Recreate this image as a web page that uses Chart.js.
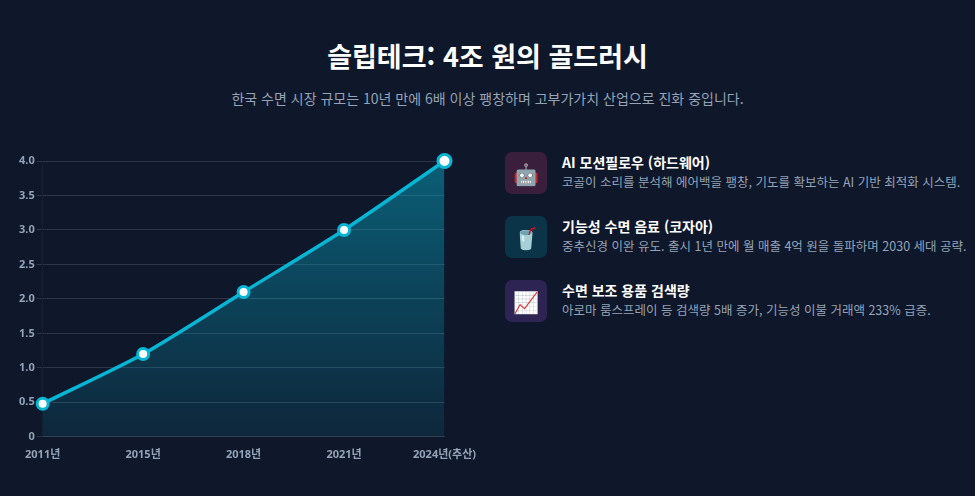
<!DOCTYPE html>
<html lang="ko">
<head>
<meta charset="utf-8">
<title>슬립테크: 4조 원의 골드러시</title>
<script src="https://cdn.jsdelivr.net/npm/chart.js@4.4.1/dist/chart.umd.min.js"></script>
<style>
    html, body {
        margin: 0;
        padding: 0;
        background: #0f172a;
        width: 975px;
        height: 496px;
        overflow: hidden;
        font-family: "Noto Sans CJK KR", "Noto Sans", sans-serif;
    }
    .title {
        position: absolute;
        left: 0;
        width: 975px;
        top: 36px;
        text-align: center;
        color: #ffffff;
        font-size: 27px;
        font-weight: 700;
        line-height: 40px;
    }
    .subtitle {
        position: absolute;
        left: 0;
        width: 975px;
        top: 88px;
        text-align: center;
        color: #94a3b8;
        font-size: 14px;
        line-height: 20px;
    }
    .chart-wrap {
        position: absolute;
        left: 17px;
        top: 151px;
        width: 462px;
        height: 313px;
    }
    .items {
        position: absolute;
        left: 505px;
        top: 152px;
        width: 470px;
    }
    .item {
        display: flex;
        align-items: flex-start;
        height: 64px;
    }
    .icon {
        width: 42px;
        height: 42px;
        border-radius: 7px;
        display: flex;
        align-items: center;
        justify-content: center;
        font-size: 21px;
        flex: none;
    }
    .text {
        margin-left: 15px;
    }
    .item-title {
        color: #ffffff;
        font-size: 14px;
        font-weight: 700;
        line-height: 18px;
        margin-top: 1px;
    }
    .item-desc {
        color: #94a3b8;
        font-size: 12.5px;
        line-height: 18px;
        margin-top: 2px;
        white-space: nowrap;
    }
</style>
</head>
<body>
    <div class="title">슬립테크: 4조 원의 골드러시</div>
    <div class="subtitle">한국 수면 시장 규모는 10년 만에 6배 이상 팽창하며 고부가가치 산업으로 진화 중입니다.</div>

    <div class="chart-wrap"><canvas id="market-chart"></canvas></div>

    <div class="items" id="items"></div>

<script>
    // market size (조 원)
    var years = ['2011년', '2015년', '2018년', '2021년', '2024년(추산)'];
    var marketSize = [0.48, 1.2, 2.1, 3.0, 4.0];
    var yTicks = [0, 0.5, 1.0, 1.5, 2.0, 2.5, 3.0, 3.5, 4.0];

    var itemIcons = ['🤖', '🥤', '📈'];
    var itemColors = ['#3a1f3d', '#0c3449', '#2d2454'];
    var itemTitles = ['AI 모션필로우 (하드웨어)', '기능성 수면 음료 (코자아)', '수면 보조 용품 검색량'];
    var itemDescs = [
        '코골이 소리를 분석해 에어백을 팽창, 기도를 확보하는 AI 기반 최적화 시스템.',
        '중추신경 이완 유도. 출시 1년 만에 월 매출 4억 원을 돌파하며 2030 세대 공략.',
        '아로마 룸스프레이 등 검색량 5배 증가, 기능성 이불 거래액 233% 급증.'
    ];

    var list = document.getElementById('items');
    for (var i = 0; i < itemTitles.length; i++) {
        var row = document.createElement('div');
        row.className = 'item';
        row.innerHTML =
            '<div class="icon" style="background:' + itemColors[i] + '">' + itemIcons[i] + '</div>' +
            '<div class="text"><div class="item-title">' + itemTitles[i] + '</div>' +
            '<div class="item-desc">' + itemDescs[i] + '</div></div>';
        list.appendChild(row);
    }

    var cyan = '#06b6d4';
    var tickFont = { family: '"Noto Sans", "Noto Sans CJK KR", sans-serif', size: 11, weight: 'bold' };

    new Chart(document.getElementById('market-chart'), {
        type: 'line',
        data: {
            labels: years,
            datasets: [{
                label: '시장 규모 (조 원)',
                data: marketSize,
                borderColor: cyan,
                borderWidth: 3.5,
                tension: 0.25,
                fill: true,
                clip: false,
                backgroundColor: function(context) {
                    var chart = context.chart;
                    var area = chart.chartArea;
                    if (!area) return 'rgba(6,182,212,0.3)';
                    var g = chart.ctx.createLinearGradient(0, area.top, 0, area.bottom);
                    g.addColorStop(0, 'rgba(6,182,212,0.45)');
                    g.addColorStop(1, 'rgba(6,182,212,0.1)');
                    return g;
                },
                pointBackgroundColor: '#ffffff',
                pointBorderColor: cyan,
                pointBorderWidth: 3,
                pointRadius: [5.5, 5.5, 5.5, 5.5, 6.5]
            }]
        },
        options: {
            responsive: true,
            maintainAspectRatio: false,
            animation: false,
            layout: { padding: { top: 10, right: 0 } },
            plugins: {
                legend: { display: false },
                tooltip: { enabled: false }
            },
            scales: {
                x: {
                    grid: { display: false },
                    border: { color: 'rgba(148,163,184,0.08)' },
                    ticks: { color: '#94a3b8', font: tickFont, maxRotation: 0, padding: 3 }
                },
                y: {
                    min: 0,
                    max: 4,
                    afterBuildTicks: function(axis) {
                        axis.ticks = yTicks.map(function(v) { return { value: v }; });
                    },
                    grid: { color: 'rgba(148,163,184,0.22)', tickLength: 6 },
                    border: { color: 'rgba(148,163,184,0.06)' },
                    ticks: {
                        color: '#94a3b8',
                        font: tickFont,
                        padding: 2,
                        callback: function(v) { return v === 0 ? '0' : v.toFixed(1); }
                    }
                }
            }
        }
    });
</script>
</body>
</html>
